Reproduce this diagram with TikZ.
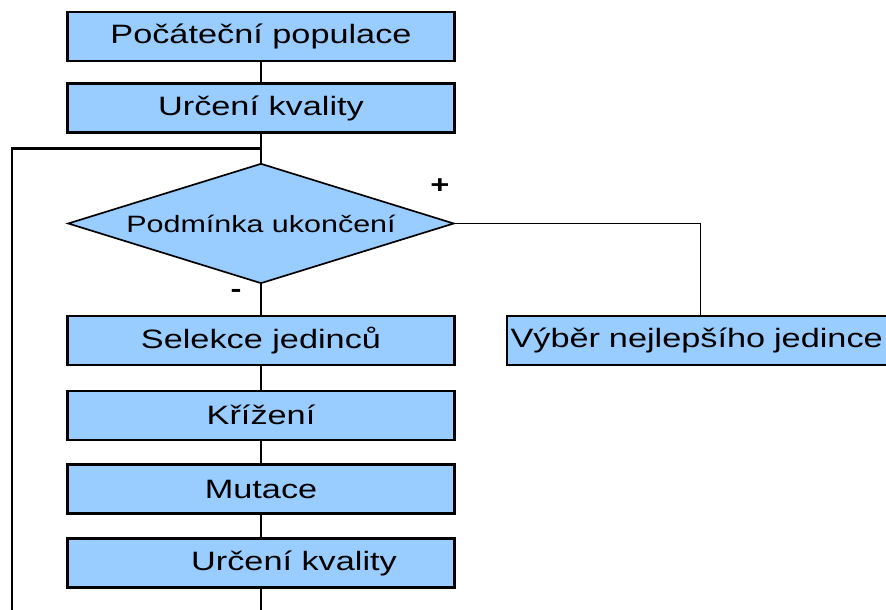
\documentclass[tikz,border=0pt]{standalone}
\usepackage{fontspec}
\usepackage{xcolor}
\usepackage{tikz}
\newfontfamily\boxfont{Liberation Sans}[FakeStretch=1.29]
\usetikzlibrary{shapes.geometric, positioning, calc}
\definecolor{boxfill}{RGB}{153, 204, 255}

\begin{document}
\begin{tikzpicture}[
    x=0.025cm, y=-0.025cm,
    node distance=0.55cm,
    stepbox/.style={rectangle, draw=black, line width=1.8pt, fill=boxfill, minimum width=9.675cm, minimum height=1.225cm, inner sep=2pt, font=\boxfont\fontsize{18.9}{22}\selectfont},
    decision/.style={diamond, aspect=3.2, draw=black, line width=1.2pt, fill=boxfill, minimum width=9.65cm, minimum height=3cm, inner sep=0pt, font=\boxfont\fontsize{16.8}{20}\selectfont},
    link/.style={line width=1.2pt},
    backlink/.style={line width=2.1pt},
    sign/.style={font=\boxfont\bfseries\fontsize{18}{20}\selectfont, inner sep=0pt}
]
\useasboundingbox (0,0) rectangle (886,610);
\clip (0,0) rectangle (886,610);

\node[stepbox] (init) at (261,36.5) {Počáteční populace};
\node[stepbox, below=0.5cm of init] (eval) {Určení kvality};
\node[decision, below=0.72cm of eval] (cond) {Podmínka ukončení};
\node[stepbox, below=0.76cm of cond] (select) {Selekce jedinců};
\node[stepbox, below=0.58cm of select] (cross) {Křížení};
\node[stepbox, below=0.56cm of cross] (mutate) {Mutace};
\node[stepbox, below=0.56cm of mutate] (reeval) {\hspace*{1.65cm}Určení kvality};
\node[stepbox, right=1.25cm of select, text width=9.5cm, align=left] (best) {Výběr nejlepšího jedince};

\node[sign] (plus) at (440,186) {+};
\node[sign] (minus) at (236,293) {-};

\coordinate (join) at ($(eval.south)!0.5!(cond.north)$);
\coordinate (left) at (12,600);

\draw[link] (init) -- (eval);
\draw[link] (eval) -- (cond);
\draw[link] (cond.east) -| (best.north);
\draw[link] (cond) -- (select);
\draw[link] (select) -- (cross);
\draw[link] (cross) -- (mutate);
\draw[link] (mutate) -- (reeval);
\draw[backlink] (reeval.south) -- ++(0,60) -| (join -| left) -- (join);
\end{tikzpicture}
\end{document}
